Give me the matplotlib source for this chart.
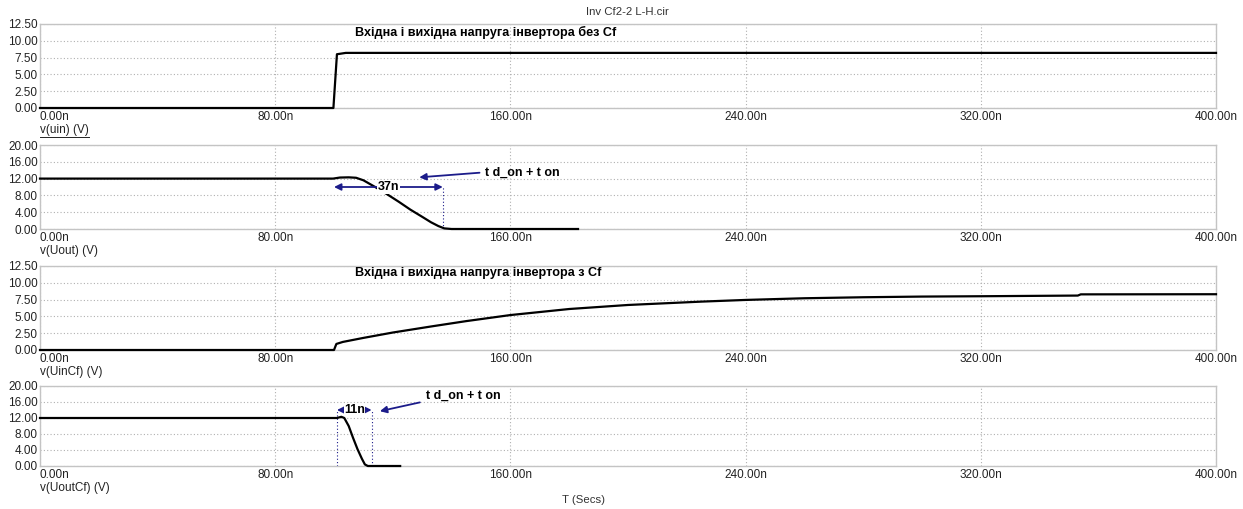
import numpy as np
import matplotlib.pyplot as plt
from matplotlib.lines import Line2D

plt.rcParams['font.family'] = ['Liberation Sans', 'DejaVu Sans']

# time axis (ns)
x_ticks = [0, 80, 160, 240, 320, 400]
x_tick_labels = ['0.00n', '80.00n', '160.00n', '240.00n', '320.00n', '400.00n']

yticks_a = [0, 2.5, 5, 7.5, 10, 12.5]
yticks_b = [0, 4, 8, 12, 16, 20]

# v(uin)
uin_t = [0, 99.8, 101.0, 104.0, 400]
uin_v = [0, 0, 8.0, 8.2, 8.2]

# v(Uout)
uout_t = [0, 99.7, 102, 105, 107.5, 110, 114, 118, 122, 126, 130, 133, 135.5, 137.5, 140, 183]
uout_v = [12, 12, 12.25, 12.3, 12.2, 11.6, 10.0, 8.3, 6.5, 4.6, 2.9, 1.6, 0.7, 0.15, 0.0, 0.0]

# v(UinCf)
uincf_t = [0, 100.0, 100.8, 103, 110, 120, 133, 145, 160, 180, 200, 225, 240, 260, 280, 300, 320, 353, 354, 400]
uincf_v = [0, 0, 0.9, 1.2, 1.8, 2.6, 3.5, 4.3, 5.2, 6.1, 6.7, 7.2, 7.45, 7.7, 7.85, 7.95, 8.0, 8.1, 8.28, 8.3]

# v(UoutCf)
uoutcf_t = [0, 101, 102.5, 103.5, 105, 106.5, 108, 109.5, 110.5, 111.5, 122.5]
uoutcf_v = [12, 12, 12.3, 12.0, 10.0, 7.0, 4.2, 1.8, 0.4, 0.0, 0.0]

W, H = 1243, 509
fig = plt.figure(figsize=(W / 100, H / 100), dpi=100)
fig.patch.set_facecolor('white')


def panel(top, bottom, yticks, t, v, label):
    ax = fig.add_axes([40 / W, 1 - bottom / H, 1176 / W, (bottom - top) / H])
    ax.plot(t, v, color='black', lw=1.6, clip_on=False, zorder=5)
    ax.set_xlim(0, 400)
    ax.set_ylim(yticks[0], yticks[-1])
    ax.set_xticks(x_ticks)
    ax.set_xticklabels(x_tick_labels, fontsize=8.5, color='#222222')
    ax.get_xticklabels()[0].set_ha('left')
    ax.set_yticks(yticks)
    ax.set_yticklabels(['%.2f' % y for y in yticks], fontsize=8.5, color='#222222')
    ax.tick_params(length=0)
    ax.tick_params(axis='x', pad=2.5)
    ax.tick_params(axis='y', pad=1.5)
    ax.grid(True, color='#b0b0b0', linestyle=(0, (1, 2)), lw=0.8)
    for s in ax.spines.values():
        s.set_color('#c4c4c4')
        s.set_linewidth(1.0)
    txt = fig.text(40 / W, 1 - (bottom + 22) / H, label, fontsize=8.5,
                   color='#222222', ha='left', va='center')
    return ax, txt


ax1, lab1 = panel(24, 108, yticks_a, uin_t, uin_v, 'v(uin) (V)')
ax2, _ = panel(145, 229, yticks_b, uout_t, uout_v, 'v(Uout) (V)')
ax3, _ = panel(266, 350, yticks_a, uincf_t, uincf_v, 'v(UinCf) (V)')
ax4, _ = panel(386, 466, yticks_b, uoutcf_t, uoutcf_v, 'v(UoutCf) (V)')

fig.text(627 / W, 1 - 12 / H, 'Inv Cf2-2 L-H.cir', fontsize=8.2,
         color='#333333', ha='center', va='center')
fig.text(583 / W, 1 - 500 / H, 'T (Secs)', fontsize=8.2,
         color='#333333', ha='center', va='center')

ax1.text(107, 11.2, 'Вхідна і вихідна напруга інвертора без Cf',
         fontsize=9.1, fontweight='bold', ha='left', va='center')
ax3.text(107, 11.4, 'Вхідна і вихідна напруга інвертора з Cf',
         fontsize=9.1, fontweight='bold', ha='left', va='center')

navy = '#1c1c8a'
arr = dict(color=navy, lw=1.3, mutation_scale=10, shrinkA=0, shrinkB=0)

# panel 2 annotation: 37n
ax2.annotate('', xy=(100, 10), xytext=(137, 10),
             arrowprops=dict(arrowstyle='<|-|>', **arr), zorder=6)
ax2.text(118.5, 10, '37n', fontsize=9, fontweight='bold', ha='center',
         va='center', zorder=7,
         bbox=dict(facecolor='white', edgecolor='none', pad=0.5))
ax2.plot([137, 137], [0, 10], color=navy, lw=0.8, linestyle=(0, (1, 2)), zorder=4)
ax2.annotate('', xy=(129, 12.3), xytext=(149.5, 13.4),
             arrowprops=dict(arrowstyle='-|>', **arr))
ax2.text(151.5, 13.3, 't d_on + t on', fontsize=9, fontweight='bold',
         ha='left', va='center')

# panel 4 annotation: 11n
ax4.annotate('', xy=(101, 14), xytext=(112.8, 14),
             arrowprops=dict(arrowstyle='<|-|>', **arr), zorder=6)
ax4.text(106.9, 14, '11n', fontsize=9, fontweight='bold', ha='center',
         va='center', zorder=7,
         bbox=dict(facecolor='white', edgecolor='none', pad=0.2))
for xv in (101, 112.8):
    ax4.plot([xv, xv], [0, 14], color=navy, lw=0.8, linestyle=(0, (1, 2)), zorder=4)
ax4.annotate('', xy=(115.6, 13.7), xytext=(129.2, 15.9),
             arrowprops=dict(arrowstyle='-|>', **arr))
ax4.text(131.2, 17.5, 't d_on + t on', fontsize=9, fontweight='bold',
         ha='left', va='center')

# underline the selected trace name
fig.canvas.draw()
bb = lab1.get_window_extent().transformed(fig.transFigure.inverted())
fig.add_artist(Line2D([bb.x0, bb.x1], [bb.y0 - 0.002, bb.y0 - 0.002],
                      color='#222222', lw=0.7))

fig.savefig('out.png', dpi=100, facecolor='white')
